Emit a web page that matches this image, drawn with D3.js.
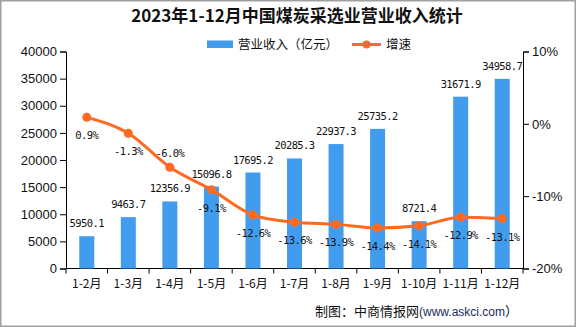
<!DOCTYPE html>
<html><head><meta charset="utf-8">
<script src="https://cdn.jsdelivr.net/npm/d3@7"></script>
<style>body{margin:0;background:#fff}svg{display:block}</style>
</head><body><svg id="c" width="576" height="327"></svg>
<script>
const categories = ["1-2月","1-3月","1-4月","1-5月","1-6月","1-7月","1-8月","1-9月","1-10月","1-11月","1-12月"];
const revenue = [5950.1, 9463.7, 12356.9, 15096.8, 17695.2, 20285.3, 22937.3, 25735.2, 8721.4, 31671.9, 34958.7];
const growth = [0.9, -1.3, -6.0, -9.1, -12.6, -13.6, -13.9, -14.4, -14.1, -12.9, -13.1];
const leftTicks = [0,5000,10000,15000,20000,25000,30000,35000,40000];
const rightTicks = [-20,-10,0,10];
const labelFont = "'DejaVu Sans Mono', monospace";
const svg = d3.select("#c");
const m = {l:66, r:523, t:51.5, b:268.5};
svg.append("rect").attr("x",0.5).attr("y",0.5).attr("width",575).attr("height",326).attr("fill","#fff").attr("stroke","#a0a0a0").attr("stroke-width",2);

const x = d3.scaleBand().domain(categories).range([m.l,m.r]);
const y = d3.scaleLinear().domain([0,40000]).range([m.b,m.t]);
const y2 = d3.scaleLinear().domain([-20,10]).range([m.b,m.t]);

// title
svg.append("text").attr("x",297).attr("y",22).attr("text-anchor","middle")
  .style("font-family","'Noto Sans CJK SC'").style("font-weight","bold").style("font-size","17px").attr("fill","#111")
  .text("2023年1-12月中国煤炭采选业营业收入统计");

// legend
svg.append("rect").attr("x",207).attr("y",40.5).attr("width",26).attr("height",7.5).attr("fill","#419CEE");
svg.append("text").attr("x",238).attr("y",49).style("font-family","'Noto Sans CJK SC'").style("font-size","12.5px").attr("fill","#111").text("营业收入（亿元）");
svg.append("line").attr("x1",352).attr("x2",381).attr("y1",44.5).attr("y2",44.5).attr("stroke","#FF6A20").attr("stroke-width",3);
svg.append("circle").attr("cx",366.5).attr("cy",44.5).attr("r",4).attr("fill","#FF6A20");
svg.append("text").attr("x",386).attr("y",49).style("font-family","'Noto Sans CJK SC'").style("font-size","12.5px").attr("fill","#111").text("增速");

// axes
const axFont = "'Liberation Sans', sans-serif";
const gl = svg.append("g").attr("transform",`translate(${m.l},0)`)
  .call(d3.axisLeft(y).tickValues(leftTicks).tickFormat(d3.format("d")).tickSize(6).tickPadding(3));
const gr = svg.append("g").attr("transform",`translate(${m.r},0)`)
  .call(d3.axisRight(y2).tickValues(rightTicks).tickFormat(d=>d+"%").tickSize(6).tickPadding(3));
const gb = svg.append("g").attr("transform",`translate(0,${m.b})`)
  .call(d3.axisBottom(x).tickSize(0).tickPadding(11));
[gl,gr,gb].forEach(g=>{g.selectAll("path,line").attr("stroke","#000");
  g.selectAll("text").style("font-family",axFont).style("font-size","13px").attr("fill","#111");});
gb.select(".domain").attr("d",`M${m.l},0H${m.r}`);
gb.selectAll("text").style("font-family","'Noto Sans CJK SC'").style("font-size","12px");
// band boundary ticks
const bounds = categories.map(c=>x(c)).concat([m.r]);
svg.append("g").selectAll("line").data(bounds).join("line")
  .attr("x1",d=>d).attr("x2",d=>d).attr("y1",m.b).attr("y2",m.b+5).attr("stroke","#000");

// bars
const bw = 15;
svg.append("g").selectAll("rect").data(revenue).join("rect")
  .attr("x",(d,i)=>x(categories[i])+x.bandwidth()/2-bw/2)
  .attr("y",d=>y(d)).attr("width",bw).attr("height",d=>m.b-y(d)).attr("fill","#419CEE");
svg.append("g").selectAll("text").data(revenue).join("text")
  .attr("x",(d,i)=>x(categories[i])+x.bandwidth()/2).attr("y",d=>y(d)-9)
  .attr("text-anchor","middle").style("font-family",labelFont).style("font-size","10.5px").style("letter-spacing","-0.6px")
  .attr("fill","#111").text(d=>d.toFixed(1));

// line
const cx = i=>x(categories[i])+x.bandwidth()/2;
const line = d3.line().x((d,i)=>cx(i)).y(d=>y2(d)).curve(d3.curveMonotoneX);
svg.append("path").datum(growth).attr("d",line).attr("fill","none").attr("stroke","#FF6A20").attr("stroke-width",3);
svg.append("g").selectAll("circle").data(growth).join("circle")
  .attr("cx",(d,i)=>cx(i)).attr("cy",d=>y2(d)).attr("r",4.5).attr("fill","#FF6A20");
svg.append("g").selectAll("text").data(growth).join("text")
  .attr("x",(d,i)=>cx(i)).attr("y",(d,i)=>i===2 ? y2(d)-10 : y2(d)+22)
  .attr("text-anchor","middle").style("font-family",labelFont).style("font-size","10.5px").style("letter-spacing","-0.6px")
  .attr("fill","#111").text(d=>d.toFixed(1)+"%");

// source
const src = svg.append("text").attr("x",315).attr("y",316).style("font-family","'Noto Sans CJK SC'").style("font-size","13px").attr("fill","#111");
src.append("tspan").text("制图：中商情报网");
src.append("tspan").attr("fill","#1a2a5a").style("font-size","12px").style("font-family","'Liberation Sans'").text("(www.askci.com");
src.append("tspan").text("）");
</script></body></html>
